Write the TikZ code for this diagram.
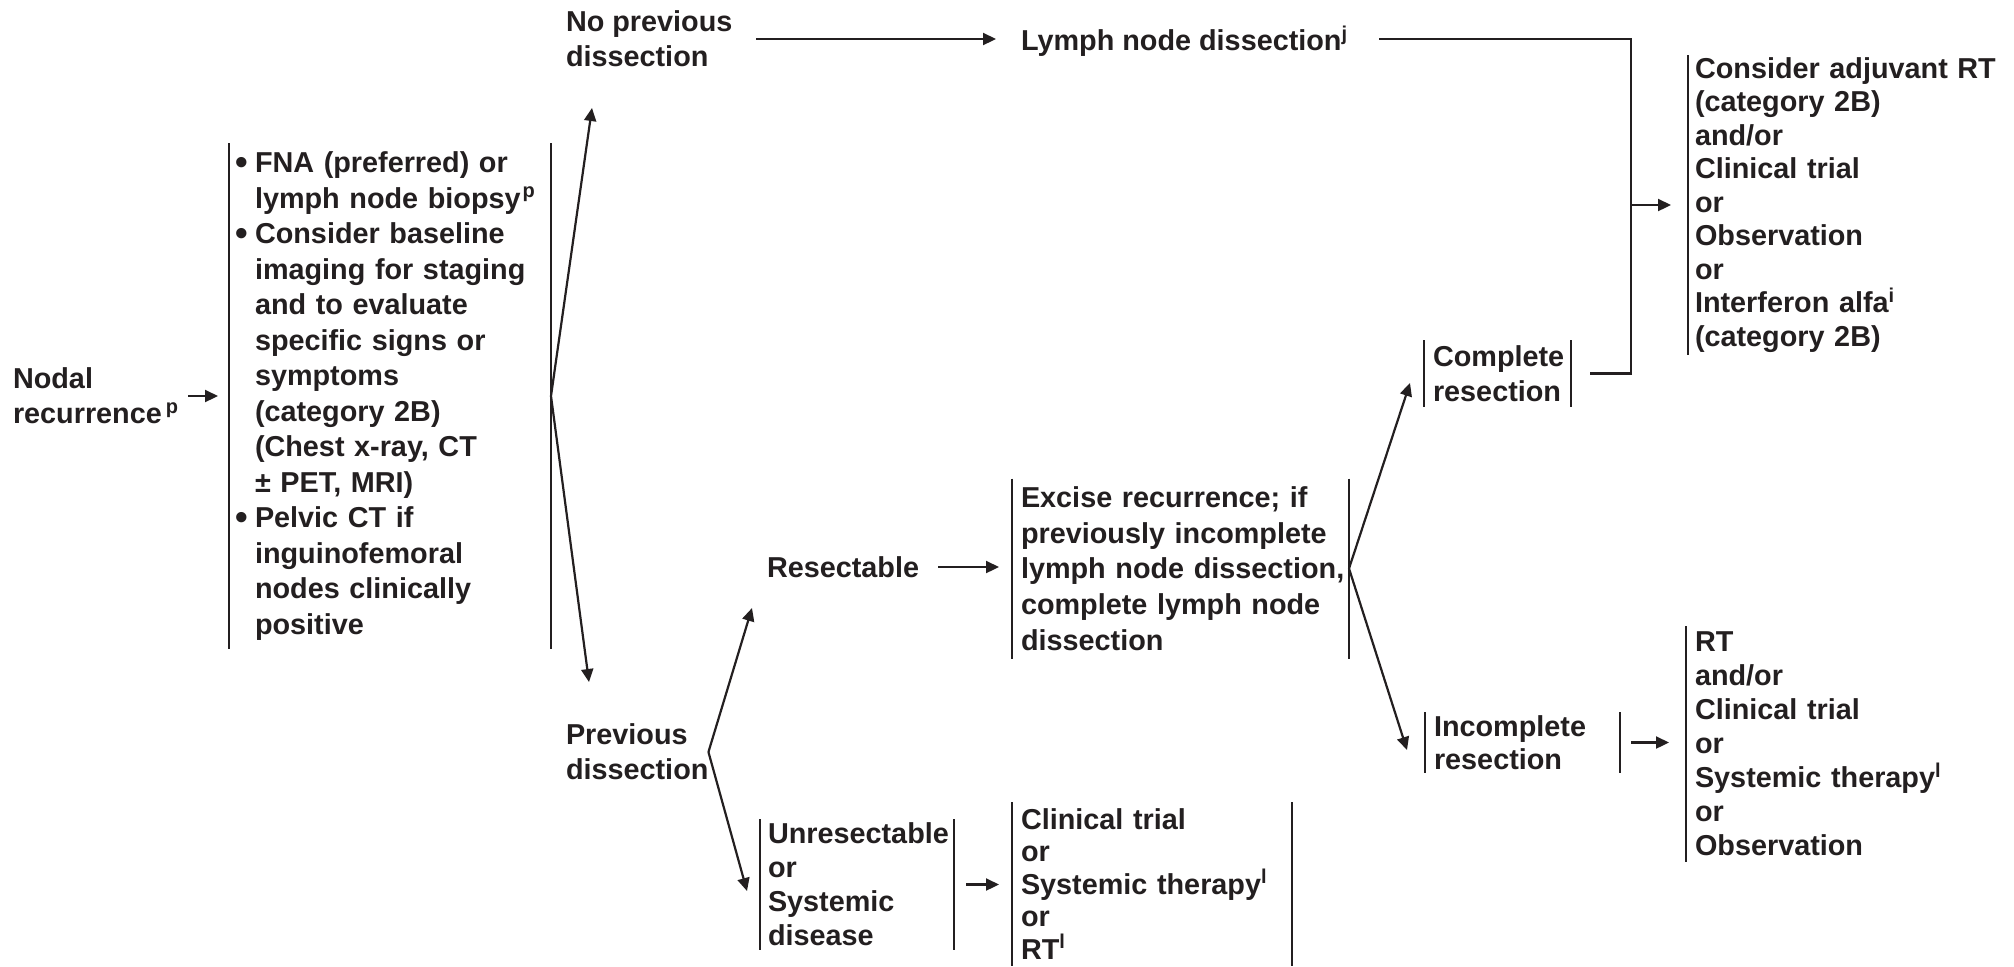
\documentclass[tikz,border=0pt]{standalone}
\usepackage{fontspec}
\setmainfont{Liberation Sans}
\usetikzlibrary{arrows.meta}
\definecolor{ink}{HTML}{231F20}
\newcommand\sups[1]{\textsuperscript{#1}}
\newcommand\bul{\makebox[6.5pt][l]{\hspace*{-3.2pt}\raisebox{-0.8pt}{\fontsize{18}{18}\selectfont •}}}
\newcommand\ind{\hspace*{6.5pt}}
\newcommand\twobars[1]{\draw[barline] (#1.north west) -- (#1.south west) (#1.north east) -- (#1.south east);}
\newcommand\leftbar[1]{\draw[barline] (#1.north west) -- (#1.south west);}
\begin{document}
\begin{tikzpicture}[x=0.5pt,y=-0.5pt,
  every node/.style={text=ink, execute at begin node={\hyphenpenalty=10000\exhyphenpenalty=10000}},
  lbl/.style={anchor=west, inner sep=0pt, outer sep=0pt, align=left, font=\bfseries\fontsize{14.4}{17.5}\selectfont},
  box/.style={anchor=west, inner xsep=4.5pt, inner ysep=0pt, outer sep=0pt, align=left, font=\bfseries\fontsize{14.4}{#1}\selectfont},
  barline/.style={draw=ink, line width=1.3pt},
  ln/.style={draw=ink, line width=1.1pt},
  arr/.style={ln, -{Triangle[length=6.5pt,width=6pt]}},
]
\useasboundingbox (0,0) rectangle (2014,966);

\node[lbl] (nodal) at (13,396) {Nodal\\recurrence\kern2pt\sups{p}};
\node[box=17.75, inner xsep=6.5pt, text width=148pt, minimum height=253pt] (L) at (229,396) {%
\bul FNA (preferred) or\\
\ind lymph node biopsy\kern1pt\sups{p}\\
\bul Consider baseline\\
\ind imaging for staging\\
\ind and to evaluate\\
\ind specific signs or\\
\ind symptoms\\
\ind (category 2B)\\
\ind (Chest x-ray, CT\\
\ind ± PET, MRI)\\
\bul Pelvic CT if\\
\ind inguinofemoral\\
\ind nodes clinically\\
\ind positive};

\node[lbl] (np) at (566,39) {No previous\\dissection};
\node[lbl] (lnd) at (1021,41) {Lymph node dissection\sups{j}};
\node[lbl] (pd) at (566,752) {Previous\\dissection};
\node[lbl] (rs) at (767,567) {Resectable};

\node[box=17.9, text width=159.5pt, minimum height=90pt] (ex) at (1012,568.5) {\mbox{Excise recurrence; if}\\\mbox{previously incomplete}\\\mbox{lymph node dissection,}\\\mbox{complete lymph node}\\dissection};
\node[box=17.5, text width=64.5pt, minimum height=33.5pt] (cr) at (1424,373.5) {Complete\\resection};
\node[box=16.5, text width=88.5pt, minimum height=30.5pt] (ir) at (1425,742.5) {Incomplete\\resection};
\node[box=17, inner xsep=4pt, text width=89pt, minimum height=65.5pt] (ur) at (760,884.5) {\mbox{Unresectable}\\or\\Systemic\\disease};
\node[box=16.25, text width=131pt, minimum height=82pt] (ct) at (1012,884) {Clinical trial\\or\\Systemic therapy\sups{l}\\or\\RT\sups{l}};
\node[box=16.75, inner xsep=3.5pt, text width=155pt, minimum height=150pt] (adj) at (1688,205) {\mbox{Consider adjuvant RT}\\(category 2B)\\and/or\\Clinical trial\\or\\Observation\\or\\Interferon alfa\sups{i}\\(category 2B)};
\node[box=17, inner xsep=4.5pt, text width=155pt, minimum height=118pt] (rt) at (1686,744) {RT\\and/or\\Clinical trial\\or\\Systemic therapy\sups{l}\\or\\Observation};

\twobars{L}
\twobars{ex}
\twobars{cr}
\twobars{ir}
\twobars{ur}
\twobars{ct}
\leftbar{adj}
\leftbar{rt}

\coordinate (tNP) at (592,108);
\coordinate (tPD) at (589,682);
\coordinate (tRS) at (752,608);
\coordinate (tUR) at (747,891);
\coordinate (tCR) at (1410,383);
\coordinate (tIR) at (1407,750);
\coordinate (bx) at (1631,0);

\draw[arr] ([xshift=-20.5pt]L.west) -- ([xshift=-5.5pt]L.west);
\draw[arr] (L.east) -- (tNP);
\draw[arr] (L.east) -- (tPD);
\draw[arr, shorten <=12pt, shorten >=12.5pt] (np.east) -- (np.east -| lnd.west);
\draw[ln] ([xshift=15.5pt]lnd.east |- np.east) -- (bx |- np.east) -- (bx |- cr.east) -- ([xshift=9.5pt]cr.east);
\draw[arr, shorten >=8.5pt] (bx |- adj.west) -- (adj.west);
\draw[arr] (pd.east) -- (tRS);
\draw[arr] (pd.east) -- (tUR);
\draw[arr, shorten <=9.5pt, shorten >=6.5pt] (rs.east) -- (rs.east -| ex.west);
\draw[arr] (ex.east) -- (tCR);
\draw[arr] (ex.east) -- (tIR);
\draw[arr, shorten <=5.5pt, shorten >=8.5pt] (ir.east) -- (ir.east -| rt.west);
\draw[arr, shorten <=6pt, shorten >=6.5pt] (ur.east) -- (ur.east -| ct.west);
\end{tikzpicture}
\end{document}
